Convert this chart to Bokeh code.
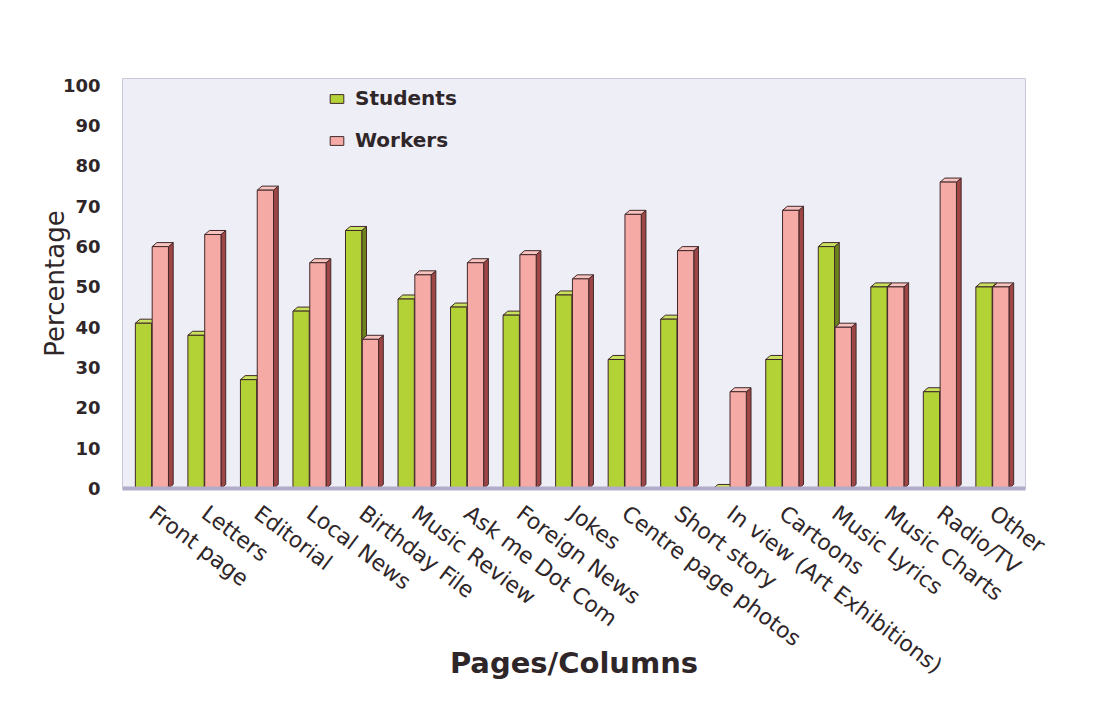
import math

from bokeh.plotting import figure
from bokeh.models import Range1d, FixedTicker, Legend, LegendItem
from bokeh.embed import file_html
from bokeh.resources import INLINE

# Share of readers (%) who read each page / column
categories = [
    "Front page", "Letters", "Editorial", "Local News", "Birthday File",
    "Music Review", "Ask me Dot Com", "Foreign News", "Jokes",
    "Centre page photos", "Short story", "In view (Art Exhibitions)",
    "Cartoons", "Music Lyrics", "Music Charts", "Radio/TV", "Other",
]
students = [41, 38, 27, 44, 64, 47, 45, 43, 48, 32, 42, 0, 32, 60, 50, 24, 50]
workers = [60, 63, 74, 56, 37, 53, 56, 58, 52, 68, 59, 24, 69, 40, 50, 76, 50]
y_ticks = list(range(0, 101, 10))

# bar geometry (in category units) and faux-3D depth
BAR_W = 0.31
OFFSET = 0.16
DX = 0.09
DY = 1.0

FONT = "DejaVu Sans"
TEXT = "#2f2629"

GREEN = "#b3d236"
GREEN_SIDE = "#6c8419"
GREEN_TOP = "#c9e25e"
PINK = "#f6aaa5"
PINK_SIDE = "#9e4545"
PINK_TOP = "#f8c2be"
EDGE = "#40282a"

p = figure(
    width=1093, height=723,
    x_range=Range1d(-0.56, 16.63), y_range=Range1d(0, 101.7),
    output_backend="svg", toolbar_location=None,
    min_border_left=122, min_border_right=68,
    min_border_top=78, min_border_bottom=235,
)
p.background_fill_color = "#eeeef7"
p.border_fill_color = "white"
p.outline_line_color = "#cbc7d8"
p.xgrid.visible = False
p.ygrid.visible = False
# thin frame around the whole chart area
p.styles = {"outline": "2px solid #d3cccc", "outline-offset": "-4px"}


def faces(xc, vals):
    """Right-side and top faces of each bar, for a pseudo-3D look."""
    sx, sy, tx, ty = [], [], [], []
    for x, v in zip(xc, vals):
        left, right = x - BAR_W / 2, x + BAR_W / 2
        sx.append([right, right + DX, right + DX, right])
        sy.append([0, DY, v + DY, v])
        tx.append([left, left + DX, right + DX, right])
        ty.append([v, v + DY, v + DY, v])
    return sx, sy, tx, ty


idx = list(range(len(categories)))
xs_students = [i - OFFSET for i in idx]
xs_workers = [i + OFFSET for i in idx]

renderers = {}
for name, xc, vals, front, side, top in [
    ("Students", xs_students, students, GREEN, GREEN_SIDE, GREEN_TOP),
    ("Workers", xs_workers, workers, PINK, PINK_SIDE, PINK_TOP),
]:
    sx, sy, tx, ty = faces(xc, vals)
    p.patches(sx, sy, fill_color=side, line_color=EDGE, line_width=1)
    p.patches(tx, ty, fill_color=top, line_color=EDGE, line_width=1)
    renderers[name] = p.vbar(
        x=xc, top=vals, width=BAR_W, bottom=0,
        fill_color=front, line_color=EDGE, line_width=1,
    )

legend = Legend(
    items=[
        LegendItem(label="Students", renderers=[renderers["Students"]]),
        LegendItem(label="Workers", renderers=[renderers["Workers"]]),
    ],
    location=(206, 336),
    orientation="vertical",
    background_fill_alpha=0,
    border_line_color=None,
    padding=0, margin=0, spacing=18,
    glyph_width=17, glyph_height=11, label_standoff=10,
    label_text_font=FONT, label_text_font_size="20px",
    label_text_font_style="bold", label_text_color=TEXT,
)
p.add_layout(legend)

# y axis
p.yaxis.ticker = FixedTicker(ticks=y_ticks)
p.yaxis.major_tick_line_color = None
p.yaxis.minor_tick_line_color = None
p.yaxis.axis_line_color = "#cbc7d8"
p.yaxis.major_label_text_font = FONT
p.yaxis.major_label_text_font_size = "18px"
p.yaxis.major_label_text_font_style = "bold"
p.yaxis.major_label_text_color = TEXT
p.yaxis.major_label_standoff = 16
p.yaxis.axis_label = "Percentage"
p.yaxis.axis_label_text_font = FONT
p.yaxis.axis_label_text_font_size = "26px"
p.yaxis.axis_label_text_font_style = "normal"
p.yaxis.axis_label_text_color = TEXT
p.yaxis.axis_label_standoff = -10

# x axis
p.xaxis.ticker = FixedTicker(ticks=idx)
p.xaxis.major_label_overrides = {i: c for i, c in zip(idx, categories)}
p.xaxis.major_label_orientation = -math.radians(37)
p.xaxis.major_tick_line_color = None
p.xaxis.minor_tick_line_color = None
p.xaxis.axis_line_color = "#b2abc9"
p.xaxis.axis_line_width = 4
p.xaxis.major_label_text_font = FONT
p.xaxis.major_label_text_font_size = "22px"
p.xaxis.major_label_text_color = TEXT
p.xaxis.major_label_standoff = 16
p.xaxis.axis_label = "Pages/Columns"
p.xaxis.axis_label_text_font = FONT
p.xaxis.axis_label_text_font_size = "29px"
p.xaxis.axis_label_text_font_style = "bold"
p.xaxis.axis_label_text_color = TEXT
p.xaxis.axis_label_standoff = -46

open("out.html", "w").write(file_html(p, INLINE))
